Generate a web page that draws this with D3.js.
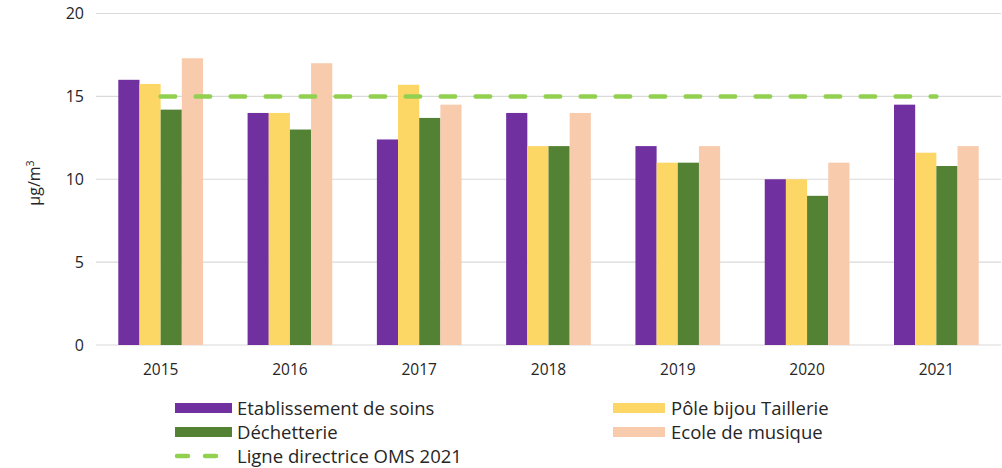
<!DOCTYPE html>
<html><head><meta charset="utf-8">
<script src="https://cdn.jsdelivr.net/npm/d3@7"></script>
<style>body{margin:0;background:#fff}svg{display:block}text{font-family:"Open Sans",sans-serif;fill:#262626}</style>
</head><body><svg id="c" width="1002" height="468"></svg>
<script>
const years = ["2015","2016","2017","2018","2019","2020","2021"];
const seriesNames = ["Etablissement de soins","Pôle bijou Taillerie","Déchetterie","Ecole de musique"];
const etablissement = [16.0,14.0,12.4,14.0,12.0,10.0,14.5];
const poleBijou = [15.75,14.0,15.7,12.0,11.0,10.0,11.6];
const dechetterie = [14.2,13.0,13.7,12.0,11.0,9.0,10.8];
const ecoleMusique = [17.3,17.0,14.5,14.0,12.0,11.0,12.0];
const omsLine = [15,15,15,15,15,15,15];
const omsName = "Ligne directrice OMS 2021";
const yTicks = [0,5,10,15,20];
const colors = ["#7030a0","#fcd765","#548235","#f8cbad"];
const omsColor = "#92d050";

const seriesValues = [etablissement, poleBijou, dechetterie, ecoleMusique];
const svg = d3.select("#c");
const L = 96, R = 1001, T = 13.5, B = 345;
const x = d3.scaleBand().domain(years).range([L,R]).paddingInner(0).paddingOuter(0);
const y = d3.scaleLinear().domain([0,20]).range([B,T]);
const bandW = x.bandwidth();
const groupW = bandW*0.655;
const xs = d3.scaleBand().domain(d3.range(4)).range([0,groupW]);

svg.append("g").selectAll("line").data(yTicks).join("line")
  .attr("x1",L).attr("x2",R).attr("y1",d=>y(d)).attr("y2",d=>y(d))
  .attr("stroke","#d9d9d9").attr("stroke-width",1.2);
svg.append("g").selectAll("text").data(yTicks).join("text")
  .attr("x",84).attr("y",d=>y(d)).attr("dy","0.36em").attr("text-anchor","end")
  .attr("font-size",16).text(d=>d);
seriesValues.forEach((vals,si)=>{
  svg.append("g").selectAll("rect").data(vals).join("rect")
    .attr("x",(d,i)=>x(years[i])+bandW/2-groupW/2+xs(si))
    .attr("width",xs.bandwidth())
    .attr("y",d=>y(d)).attr("height",d=>y(0)-y(d))
    .attr("fill",colors[si]);
});
const line = d3.line().x((d,i)=>x(years[i])+bandW/2).y(d=>y(d));
svg.append("path").datum(omsLine).attr("d",line).attr("fill","none")
  .attr("stroke",omsColor).attr("stroke-width",4.5).attr("stroke-linecap","round")
  .attr("stroke-dasharray","14.5,20.5");
svg.append("g").selectAll("text").data(years).join("text")
  .attr("x",d=>x(d)+bandW/2).attr("y",369.5).attr("dy","0.36em").attr("text-anchor","middle")
  .attr("font-size",15.5).text(d=>d);
const yt = svg.append("text").attr("transform","translate(40,183) rotate(-90)")
  .attr("text-anchor","middle").attr("font-size",16);
yt.append("tspan").text("µg/m");
yt.append("tspan").attr("font-size",10.5).attr("dy",-6.5).text("3");

const leg = [
  {name:seriesNames[0],c:colors[0],x:175,y:408},
  {name:seriesNames[1],c:colors[1],x:613,y:408},
  {name:seriesNames[2],c:colors[2],x:175,y:432},
  {name:seriesNames[3],c:colors[3],x:613,y:432}
];
const lg = svg.append("g");
leg.forEach(d=>{
  lg.append("rect").attr("x",d.x).attr("y",d.y-5).attr("width",d.x===175?57:52).attr("height",10).attr("fill",d.c);
  lg.append("text").attr("x",d.x===175?237:671).attr("y",d.y).attr("dy","0.36em").attr("font-size",18.5).text(d.name);
});
lg.append("line").attr("x1",177).attr("x2",230).attr("y1",456).attr("y2",456)
  .attr("stroke",omsColor).attr("stroke-width",4.5).attr("stroke-linecap","round").attr("stroke-dasharray","11,17");
lg.append("text").attr("x",237).attr("y",456).attr("dy","0.36em").attr("font-size",18.5).text(omsName);
</script></body></html>
